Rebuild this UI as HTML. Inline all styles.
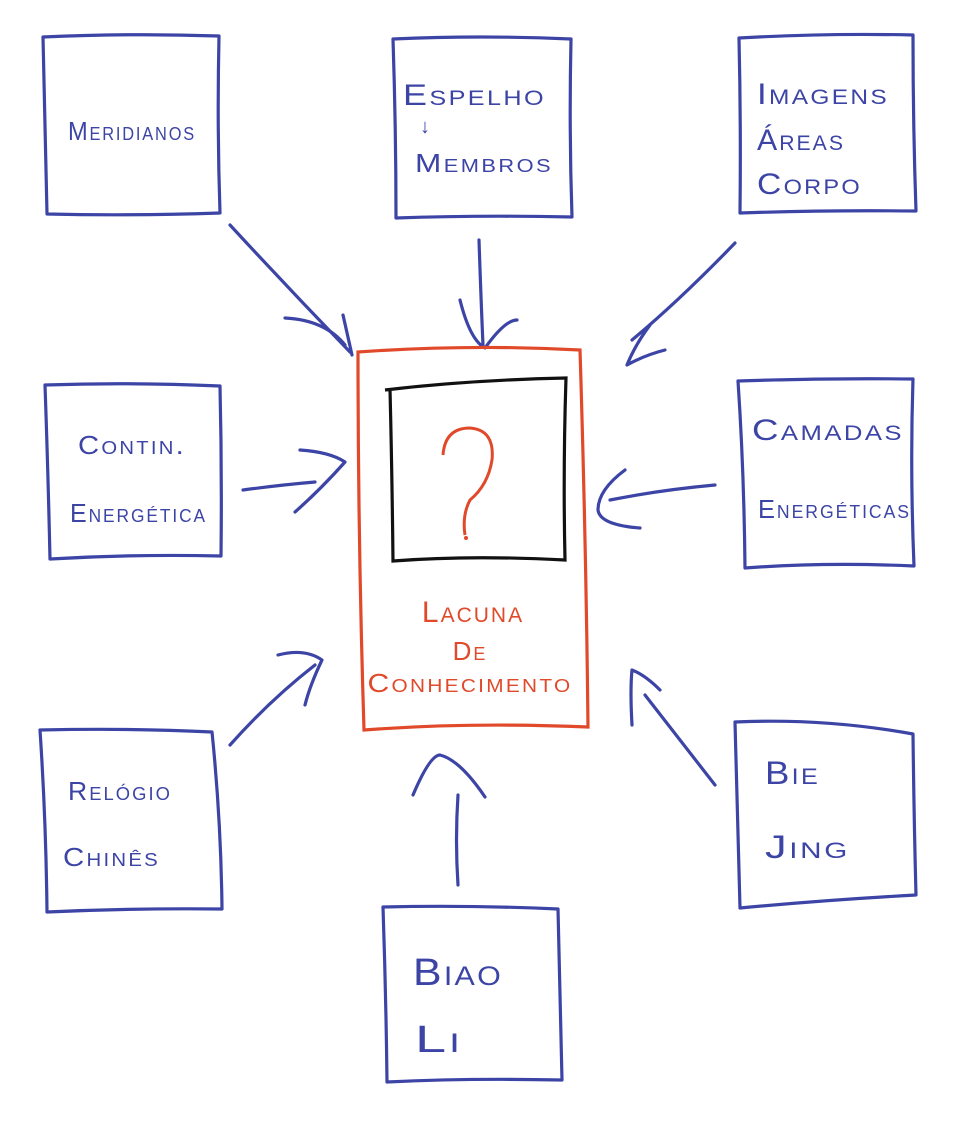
<!DOCTYPE html>
<html><head><meta charset="utf-8"><style>
html,body{margin:0;padding:0;background:#fff;}
svg{display:block;}
text{font-family:"Liberation Sans",sans-serif;font-variant:small-caps;letter-spacing:2px;}
.b{fill:#3c44a6;font-size:26px;}
.r{fill:#e04a2a;font-size:26px;}
</style></head><body>
<svg width="964" height="1143" viewBox="0 0 964 1143" xmlns="http://www.w3.org/2000/svg">
<g fill="none" stroke="#3c44a6" stroke-width="3.2" stroke-linecap="round" stroke-linejoin="round">
<!-- boxes -->
<path d="M43 37 Q130 33 219 36 Q217 125 220 213 Q130 216 47 214 Q45 125 43 37Z"/>
<path d="M393 39 Q480 35 571 39 Q569 130 572 217 Q480 215 396 218 Q396 130 393 39Z"/>
<path d="M739 38 Q825 33 913 35 Q913 125 916 211 Q825 210 740 213 Q741 125 739 38Z"/>
<path d="M45 385 Q130 382 220 386 Q222 470 221 556 Q135 554 50 559 Q48 470 45 385Z"/>
<path d="M738 381 Q825 378 913 379 Q910 470 914 566 Q825 562 745 568 Q744 470 738 381Z"/>
<path d="M40 730 Q130 728 212 732 Q221 820 222 909 Q135 908 47 912 Q46 820 40 730Z"/>
<path d="M735 722 Q825 718 913 734 Q914 820 916 895 Q825 900 740 908 Q738 820 735 722Z"/>
<path d="M383 907 Q470 905 558 909 Q560 995 562 1080 Q470 1078 387 1082 Q386 995 383 907Z"/>
<!-- arrows -->
<path d="M230 225 Q290 290 350 352"/><path d="M285 318 Q325 320 345 345"/><path d="M343 315 L352 355"/>
<path d="M479 240 Q481 300 483 345"/><path d="M460 300 Q470 340 485 348 Q505 320 517 320"/>
<path d="M735 243 Q680 300 632 340"/><path d="M650 325 Q635 345 627 365 Q645 355 665 350"/>
<path d="M243 490 Q280 485 315 482"/><path d="M300 450 Q330 452 345 462 Q320 490 295 512"/>
<path d="M715 485 Q660 490 610 500"/><path d="M625 470 Q598 490 598 510 Q600 525 640 528"/>
<path d="M230 745 Q270 700 315 665"/><path d="M278 655 Q305 648 322 660 Q310 685 305 705"/>
<path d="M458 885 Q455 840 458 795"/><path d="M413 795 Q430 755 440 755 Q460 760 485 797"/>
<path d="M715 785 Q680 740 645 695"/><path d="M632 725 Q630 690 632 670 Q645 675 660 690"/>
</g>
<path d="M358 352 Q470 344 580 350 Q586 540 588 727 Q470 722 364 730 Q358 540 358 352Z" fill="none" stroke="#e04a2a" stroke-width="3.2"/>
<path d="M385 390 Q470 380 566 378 Q563 470 565 560 Q470 555 393 561 Q392 470 390 389" fill="none" stroke="#111" stroke-width="3.2"/>
<path d="M443 455 Q445 428 470 428 Q495 430 492 460 Q488 485 470 500 Q462 515 465 535" fill="none" stroke="#e04a2a" stroke-width="3"/>
<circle cx="466" cy="538" r="2" fill="#e04a2a"/>
<text class="r" x="473" y="622" text-anchor="middle" style="font-size:30px">Lacuna</text>
<text class="r" x="470" y="660" text-anchor="middle">De</text>
<text class="r" x="470" y="692" text-anchor="middle" textLength="205" lengthAdjust="spacingAndGlyphs">Conhecimento</text>

<text class="b" x="68" y="140" textLength="128" lengthAdjust="spacingAndGlyphs">Meridianos</text>
<text class="b" x="403" y="105" textLength="143" lengthAdjust="spacingAndGlyphs" style="font-size:30px">Espelho</text>
<text class="b" x="420" y="133" style="font-size:20px">↓</text>
<text class="b" x="415" y="172" textLength="138" lengthAdjust="spacingAndGlyphs">Membros</text>
<text class="b" x="757" y="104" textLength="132" lengthAdjust="spacingAndGlyphs" style="font-size:30px">Imagens</text>
<text class="b" x="757" y="150" textLength="88" lengthAdjust="spacingAndGlyphs" style="font-size:30px">Áreas</text>
<text class="b" x="757" y="194" textLength="105" lengthAdjust="spacingAndGlyphs" style="font-size:30px">Corpo</text>
<text class="b" x="78" y="454" textLength="108" lengthAdjust="spacingAndGlyphs">Contin.</text>
<text class="b" x="70" y="522" textLength="137" lengthAdjust="spacingAndGlyphs">Energética</text>
<text class="b" x="752" y="440" textLength="152" lengthAdjust="spacingAndGlyphs" style="font-size:30px">Camadas</text>
<text class="b" x="758" y="518" textLength="153" lengthAdjust="spacingAndGlyphs">Energéticas</text>
<text class="b" x="68" y="800" textLength="104" lengthAdjust="spacingAndGlyphs">Relógio</text>
<text class="b" x="63" y="866" textLength="97" lengthAdjust="spacingAndGlyphs">Chinês</text>
<text class="b" x="765" y="784" textLength="55" lengthAdjust="spacingAndGlyphs" style="font-size:32px">Bie</text>
<text class="b" x="765" y="858" textLength="85" lengthAdjust="spacingAndGlyphs" style="font-size:32px">Jing</text>
<text class="b" x="413" y="985" textLength="90" lengthAdjust="spacingAndGlyphs" style="font-size:38px">Biao</text>
<text class="b" x="415" y="1052" textLength="48" lengthAdjust="spacingAndGlyphs" style="font-size:38px">Li</text>
</svg>
</body></html>
